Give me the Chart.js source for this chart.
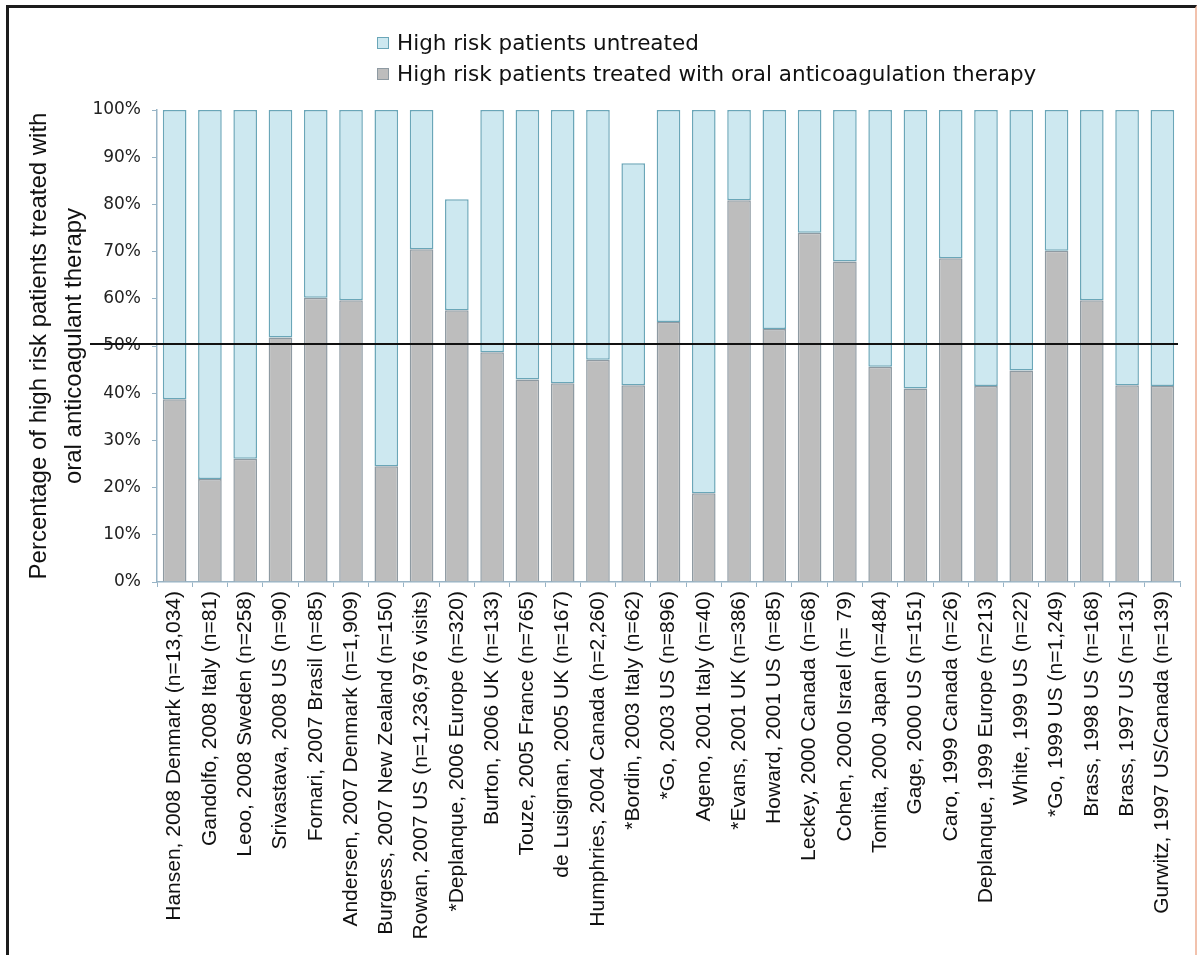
<!DOCTYPE html>
<html lang="en">
<head>
  <meta charset="UTF-8" />
  <title>High risk patients treated with oral anticoagulation therapy</title>
  <script src="https://cdn.jsdelivr.net/npm/chart.js"></script>
  <style>
    html, body { margin: 0; padding: 0; background: #fff; }
    body { width: 1199px; height: 955px; position: relative; overflow: hidden; }
    .frame {
      position: absolute; left: 6px; top: 5px; width: 1191px; height: 960px;
      border-top: 3px solid #1c1c1c; border-left: 3px solid #1c1c1c;
      border-right: 2px solid #f2c2ad; box-sizing: border-box;
    }
    #chart { position: absolute; left: 0; top: 0; }
    .legend {
      position: absolute; left: 377px; top: 27px;
      font-family: "DejaVu Sans", sans-serif; font-size: 21.5px; color: #111;
    }
    .legend div { display: flex; align-items: center; height: 31px; }
    .legend span.box { width: 12px; height: 12px; margin-right: 8px; box-sizing: border-box; }
  </style>
</head>
<body>
  <div class="frame"></div>
  <canvas id="chart" width="1199" height="955"></canvas>

  <div class="legend">
    <div><span class="box" style="background:#cde8f0;border:1px solid #6aa6b8"></span>High risk patients untreated</div>
    <div><span class="box" style="background:#bdbdbd;border:1px solid #8e9aa2"></span>High risk patients treated with oral anticoagulation therapy</div>
  </div>

  <script>
    const studies = [
      "Hansen, 2008 Denmark (n=13,034)",
      "Gandolfo, 2008 Italy (n=81)",
      "Leoo, 2008 Sweden (n=258)",
      "Srivastava, 2008 US (n=90)",
      "Fornari, 2007 Brasil (n=85)",
      "Andersen, 2007 Denmark (n=1,909)",
      "Burgess, 2007 New Zealand (n=150)",
      "Rowan, 2007 US (n=1,236,976 visits)",
      "*Deplanque, 2006 Europe (n=320)",
      "Burton, 2006 UK (n=133)",
      "Touze, 2005 France (n=765)",
      "de Lusignan, 2005 UK (n=167)",
      "Humphries, 2004 Canada (n=2,260)",
      "*Bordin, 2003 Italy (n=62)",
      "*Go, 2003 US (n=896)",
      "Ageno, 2001 Italy (n=40)",
      "*Evans, 2001 UK (n=386)",
      "Howard, 2001 US (n=85)",
      "Leckey, 2000 Canada (n=68)",
      "Cohen, 2000 Israel (n= 79)",
      "Tomita, 2000 Japan (n=484)",
      "Gage, 2000 US (n=151)",
      "Caro, 1999 Canada (n=26)",
      "Deplanque, 1999 Europe (n=213)",
      "White, 1999 US (n=22)",
      "*Go, 1999 US (n=1,249)",
      "Brass, 1998 US (n=168)",
      "Brass, 1997 US (n=131)",
      "Gurwitz, 1997 US/Canada (n=139)"
    ];

    // % of high risk patients treated (grey, bottom of stack)
    const treated = [38.7, 21.8, 26.1, 51.8, 60.2, 59.7, 24.5, 70.5, 57.6, 48.7,
                     42.9, 42.1, 47.1, 41.7, 55.1, 18.8, 80.9, 53.6, 74.0, 67.9,
                     45.6, 41.0, 68.6, 41.5, 44.8, 70.2, 59.7, 41.7, 41.5];

    // % untreated (light blue, on top)
    const untreated = [61.3, 78.2, 73.9, 48.2, 39.8, 40.3, 75.5, 29.5, 23.5, 51.3,
                       57.1, 57.9, 52.9, 47.0, 44.9, 81.2, 19.1, 46.4, 26.0, 32.1,
                       54.4, 59.0, 31.4, 58.5, 55.2, 29.8, 40.3, 58.3, 58.5];

    const yTicks = [0, 10, 20, 30, 40, 50, 60, 70, 80, 90, 100];
    const refLine = 50.4;

    const axisColor = '#98b4c6';

    // black reference line across the plot
    const refLinePlugin = {
      id: 'refLine',
      afterDatasetsDraw(chart) {
        const { ctx, chartArea, scales } = chart;
        const py = scales.y.getPixelForValue(refLine);
        ctx.save();
        ctx.strokeStyle = '#111';
        ctx.lineWidth = 2;
        ctx.beginPath();
        ctx.moveTo(chartArea.left - 67, py);
        ctx.lineTo(chartArea.right - 2, py);
        ctx.stroke();
        ctx.restore();
      }
    };

    const ctx = document.getElementById('chart').getContext('2d');
    new Chart(ctx, {
      type: 'bar',
      data: {
        labels: studies,
        datasets: [{
          label: 'High risk patients treated with oral anticoagulation therapy',
          data: treated,
          backgroundColor: '#bdbdbd',
          borderColor: '#8e9aa2',
          borderWidth: 1.5,
          borderSkipped: 'bottom',
          barPercentage: 0.67,
          categoryPercentage: 1
        }, {
          label: 'High risk patients untreated',
          data: untreated,
          backgroundColor: '#cde8f0',
          borderColor: '#6aa6b8',
          borderWidth: 1.5,
          borderSkipped: false,
          barPercentage: 0.67,
          categoryPercentage: 1
        }]
      },
      options: {
        responsive: false,
        animation: false,
        layout: { padding: { left: 10, top: 110, right: 19, bottom: 0 } },
        plugins: {
          legend: { display: false },
          tooltip: { enabled: false }
        },
        scales: {
          x: {
            stacked: true,
            afterFit: (s) => { s.height = 373; },
            grid: { drawOnChartArea: false, drawTicks: true, tickLength: 5, color: axisColor, offset: true },
            border: { color: axisColor, width: 1.5 },
            ticks: {
              autoSkip: false,
              minRotation: 90,
              maxRotation: 90,
              padding: 4,
              color: '#111',
              font: { family: '"Liberation Sans", Arial, sans-serif', size: 21 }
            }
          },
          y: {
            stacked: true,
            min: 0,
            max: 100,
            afterFit: (s) => { s.width = 147; },
            afterBuildTicks: (s) => { s.ticks = yTicks.map(v => ({ value: v })); },
            grid: { drawOnChartArea: false, drawTicks: true, tickLength: 5, color: axisColor },
            border: { color: axisColor, width: 1.5 },
            ticks: {
              padding: 11,
              color: '#222',
              font: { family: '"DejaVu Sans", sans-serif', size: 17 },
              callback: (v) => v + '%'
            },
            title: {
              display: true,
              text: ['Percentage of high risk patients treated with', 'oral anticoagulant therapy'],
              color: '#111',
              padding: { top: 12, bottom: 0 },
              font: { family: '"Liberation Sans", Arial, sans-serif', size: 24, lineHeight: 1.45 }
            }
          }
        }
      },
      plugins: [refLinePlugin]
    });
  </script>
</body>
</html>
